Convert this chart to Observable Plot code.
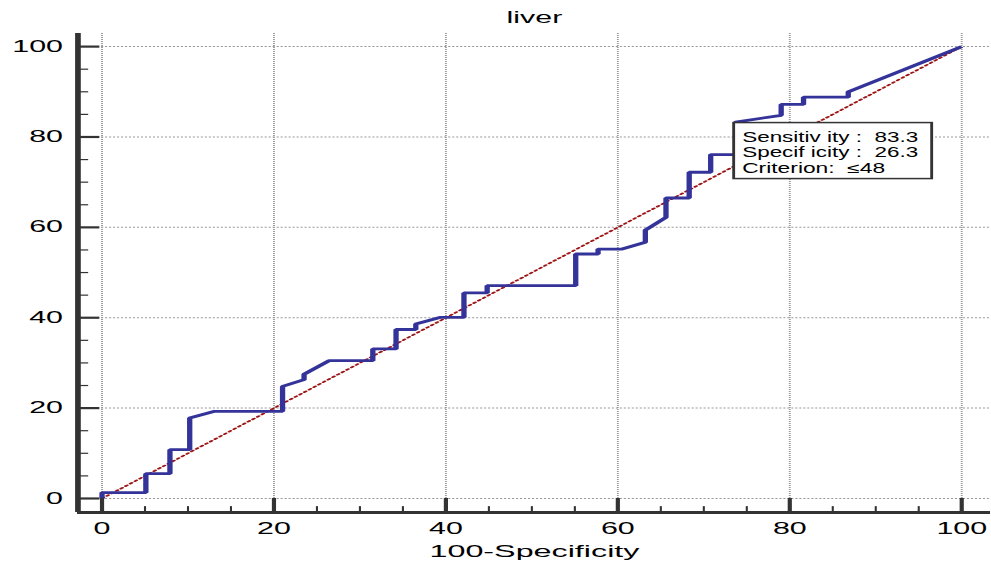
<!DOCTYPE html>
<html><head><meta charset="utf-8">
<script src="https://cdn.jsdelivr.net/npm/d3@7"></script>
<script src="https://cdn.jsdelivr.net/npm/@observablehq/plot@0.6"></script>
<style>html,body{margin:0;padding:0;background:#fff;overflow:hidden}</style>
</head><body><div id="chart"></div>
<script>
// ---- data ----
const title = "liver";
const xLabel = "100-Specificity";
const fpr = [0, 0, 5.1, 5.1, 7.9, 7.9, 10.2, 10.2, 13.1, 21.0, 21.0, 23.5, 23.5, 26.4, 31.5, 31.5, 34.2, 34.2, 36.5, 36.5, 39.4, 42.1, 42.1, 44.8, 44.8, 55.1, 55.1, 57.7, 57.7, 60.5, 63.2, 63.2, 65.6, 65.6, 68.3, 68.3, 70.8, 70.8, 73.7, 73.7, 79.0, 79.0, 81.6, 81.6, 86.8, 86.8, 100];
const tpr = [0, 1.3, 1.3, 5.5, 5.5, 10.8, 10.8, 17.8, 19.3, 19.3, 24.8, 26.3, 27.5, 30.5, 30.5, 33.1, 33.1, 37.4, 37.4, 38.6, 40.1, 40.1, 45.5, 45.5, 47.1, 47.1, 54.1, 54.1, 55.2, 55.2, 56.7, 59.4, 62.2, 66.5, 66.5, 72.2, 72.2, 76.1, 76.1, 83.3, 84.8, 87.2, 87.2, 88.8, 88.8, 90.0, 100];
const diagX = [0, 100];
const diagY = [0, 100];
const majorTicks = [0, 20, 40, 60, 80, 100];
const minorTicks = [5, 10, 15, 25, 30, 35, 45, 50, 55, 65, 70, 75, 85, 90, 95];
const critSensitivity = 83.3;
const critSpecificity = 26.3;
const boxLines = ["Sensitiv ity :  83.3", "Specif icity :  26.3", "Criterion:  \u226448"];

// ---- layout ----
const S = 1.9;               // horizontal stretch of the picture
const W = 991, H = 567;
const W0 = W / S;
const xDomain = [-2.8, 103.4];
const yDomain = [-3.1, 102.9];
const font = "'Liberation Sans', Arial, Helvetica, sans-serif";
const axisColor = "#333";

const curve = fpr.map((x, i) => ({x, y: tpr[i]}));
const diag = diagX.map((x, i) => ({x, y: diagY[i]}));

const plot = Plot.plot({
  width: W0, height: H,
  marginLeft: 77 / S, marginRight: (W - 990) / S, marginTop: 33, marginBottom: 55,
  x: {domain: xDomain}, y: {domain: yDomain},
  style: {fontFamily: font, background: "white", color: "black"},
  marks: [
    Plot.ruleX(majorTicks, {y1: 0, y2: yDomain[1], stroke: "#9a9a9a", strokeWidth: 1, strokeDasharray: "1,1"}),
    Plot.ruleY(majorTicks, {x1: 0, x2: xDomain[1], stroke: "#9a9a9a", strokeWidth: 1, strokeDasharray: "1.1,1"}),
    Plot.line(diag, {x: "x", y: "y", stroke: "#9c1414", strokeWidth: 1.5, strokeDasharray: "1.3,2.2"}),
    Plot.line(curve, {x: "x", y: "y", stroke: "#333399", strokeWidth: 2.8, strokeLinejoin: "miter", strokeLinecap: "butt"}),
    Plot.ruleX([xDomain[0]], {stroke: axisColor, strokeWidth: 3}),
    Plot.ruleY([yDomain[0]], {stroke: axisColor, strokeWidth: 2.8}),
    Plot.ruleY(majorTicks, {x1: xDomain[0], x2: -0.2, stroke: axisColor, strokeWidth: 2.2}),
    Plot.ruleY(minorTicks, {x1: xDomain[0], x2: -1.5, stroke: axisColor, strokeWidth: 1.2}),
    Plot.ruleX(majorTicks, {y1: yDomain[0], y2: 0, stroke: axisColor, strokeWidth: 2.2}),
    Plot.ruleX(minorTicks, {y1: yDomain[0], y2: -1.8, stroke: axisColor, strokeWidth: 1.1}),
    Plot.axisX({ticks: majorTicks, tickSize: 0, tickPadding: 10.5, fontSize: 16, label: null, fill: "black"}),
    Plot.axisY({ticks: majorTicks, tickSize: 0, tickPadding: 7.9, fontSize: 16, label: null, fill: "black"}),
    Plot.text([title], {text: d => d, frameAnchor: "top", dy: -21.5, fontSize: 16, fill: "black"}),
    Plot.text([xLabel], {text: d => d, frameAnchor: "bottom", dy: 44.5, fontSize: 17, fill: "black"})
  ]
});

// ---- criterion box ----
const sx = plot.scale("x"), sy = plot.scale("y");
const fx = sx.apply ? v => sx.apply(v) : d3.scaleLinear(sx.domain, sx.range);
const fy = sy.apply ? v => sy.apply(v) : d3.scaleLinear(sy.domain, sy.range);
const bx = fx(100 - critSpecificity) - 1 / S, by = fy(critSensitivity) + 1;
const g = d3.select(plot).append("g").attr("font-family", font).attr("text-anchor", "start");
g.append("rect").attr("x", bx).attr("y", by).attr("width", 198 / S).attr("height", 56)
  .attr("fill", "white").attr("stroke", "#333").attr("stroke-width", 1.5);
const lens = [176 / S, 176 / S, 143 / S];
boxLines.forEach((t, i) => {
  g.append("text").attr("x", bx + 8.5 / S).attr("y", by + 19 + i * 15.6)
    .attr("font-size", 14).attr("fill", "black").attr("text-anchor", "start").style("white-space", "pre")
    .attr("textLength", lens[i]).attr("lengthAdjust", "spacingAndGlyphs").text(t);
});

plot.setAttribute("preserveAspectRatio", "none");
plot.style.width = W + "px";
plot.style.height = H + "px";
plot.style.maxWidth = "none";
document.getElementById("chart").appendChild(plot);
</script>
</body></html>
